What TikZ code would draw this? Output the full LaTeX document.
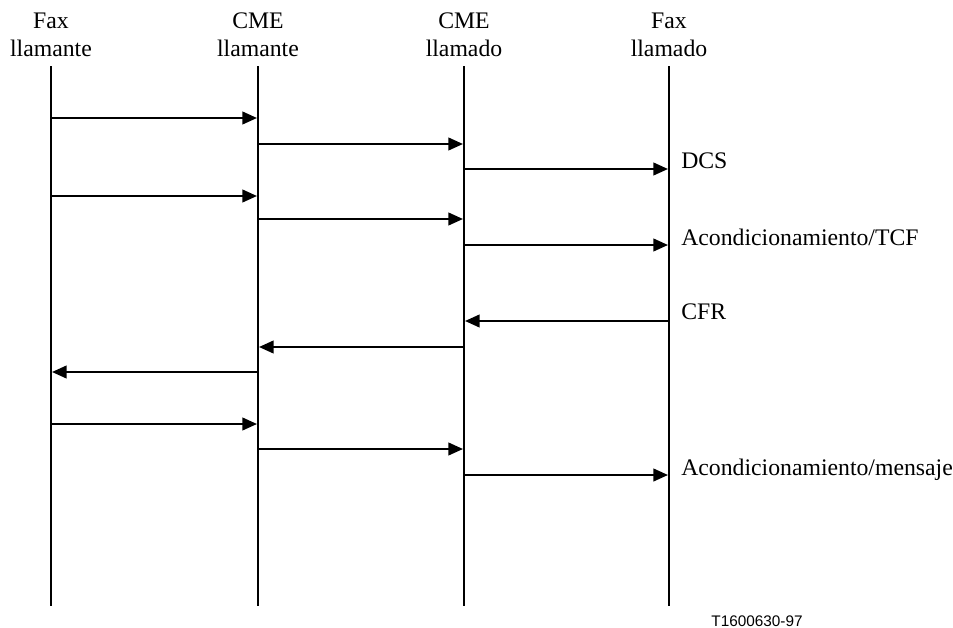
\documentclass[tikz,border=0pt]{standalone}
\usepackage{fontspec}
\setmainfont{Liberation Serif}
\newfontfamily\labelsans{Liberation Sans}
\usetikzlibrary{arrows.meta}
\begin{document}
\begin{tikzpicture}[x=0.75pt,y=-0.75pt,
  lifeline/.style={line width=1.6pt},
  msg/.style={line width=1.6pt,-{Triangle[length=11pt,width=9.5pt]}},
  head/.style={font=\fontsize{17.8}{20}\selectfont,anchor=base,inner sep=0pt},
  msglabel/.style={font=\fontsize{17.8}{20}\selectfont,anchor=base west,inner sep=0pt}]
\useasboundingbox (0,0) rectangle (953,628);

% column headings
\node[head] (h1a) at (51,28) {Fax};
\node[head] (h1b) at (51,56) {llamante};
\node[head] (h2a) at (258,28) {CME};
\node[head] (h2b) at (258,56) {llamante};
\node[head] (h3a) at (464,28) {CME};
\node[head] (h3b) at (464,56) {llamado};
\node[head] (h4a) at (669,28) {Fax};
\node[head] (h4b) at (669,56) {llamado};

% lifelines
\coordinate (fa) at (51,66);  \coordinate (faE) at (51,606);
\coordinate (ca) at (258,66); \coordinate (caE) at (258,606);
\coordinate (cb) at (464,66); \coordinate (cbE) at (464,606);
\coordinate (fb) at (669,66); \coordinate (fbE) at (669,606);
\draw[lifeline] (fa) -- (faE);
\draw[lifeline] (ca) -- (caE);
\draw[lifeline] (cb) -- (cbE);
\draw[lifeline] (fb) -- (fbE);

% message end points
\coordinate (m1s) at (51,118);  \coordinate (m1e) at (257,118);
\coordinate (m2s) at (258,144); \coordinate (m2e) at (463,144);
\coordinate (m3s) at (464,169); \coordinate (m3e) at (668,169);
\coordinate (m4s) at (51,196);  \coordinate (m4e) at (257,196);
\coordinate (m5s) at (258,219); \coordinate (m5e) at (463,219);
\coordinate (m6s) at (464,245); \coordinate (m6e) at (668,245);
\coordinate (m7s) at (669,321); \coordinate (m7e) at (465,321);
\coordinate (m8s) at (464,347); \coordinate (m8e) at (259,347);
\coordinate (m9s) at (258,372); \coordinate (m9e) at (52,372);
\coordinate (m10s) at (51,424);  \coordinate (m10e) at (257,424);
\coordinate (m11s) at (258,449); \coordinate (m11e) at (463,449);
\coordinate (m12s) at (464,475); \coordinate (m12e) at (668,475);

% messages
\draw[msg] (m1s) -- (m1e);
\draw[msg] (m2s) -- (m2e);
\draw[msg] (m3s) -- (m3e);
\draw[msg] (m4s) -- (m4e);
\draw[msg] (m5s) -- (m5e);
\draw[msg] (m6s) -- (m6e);
\draw[msg] (m7s) -- (m7e);
\draw[msg] (m8s) -- (m8e);
\draw[msg] (m9s) -- (m9e);
\draw[msg] (m10s) -- (m10e);
\draw[msg] (m11s) -- (m11e);
\draw[msg] (m12s) -- (m12e);

% message labels
\node[msglabel] (l1) at (681,168) {DCS};
\node[msglabel] (l2) at (681,245) {Acondicionamiento/TCF};
\node[msglabel] (l3) at (681,319) {CFR};
\node[msglabel] (l4) at (681,475) {Acondicionamiento/mensaje};

% figure reference
\node[font=\labelsans\fontsize{11.5}{13}\selectfont,anchor=base,inner sep=0pt] (ref) at (757,626) {T1600630-97};
\end{tikzpicture}
\end{document}
